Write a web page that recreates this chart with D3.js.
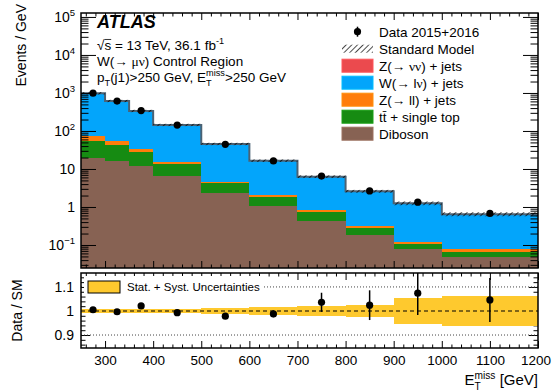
<!DOCTYPE html>
<html>
<head>
<meta charset="utf-8">
<script src="https://cdn.jsdelivr.net/npm/d3@7"></script>
<style>
  html, body { margin: 0; padding: 0; background: #fff; }
  svg { display: block; font-family: "Liberation Sans", Arial, Helvetica, sans-serif; }
  text { white-space: pre; }
</style>
</head>
<body>
<svg id="chart" width="552" height="390"></svg>
<script>
// ---- binning and stacked backgrounds (events / GeV) ----
const binEdges = [250, 300, 350, 400, 500, 600, 700, 800, 900, 1000, 1200];
const diboson        = [19, 16.2, 12, 6.5, 2.38, 1.08, 0.43, 0.183, 0.0785, 0.049];
const ttbarSingleTop = [35.6, 25.5, 15.7, 6.8, 1.82, 0.79, 0.32, 0.103, 0.0275, 0.0165];
const zll            = [19.4, 12.9, 5.3, 2.0, 0.45, 0.2, 0.08, 0.03, 0.011, 0.0115];
const wlnu           = [905.4, 560, 302.8, 128.6, 40.8, 14.42, 5.44, 2.27, 1.13, 0.568];
const znunu          = [0.6, 0.4, 0.2, 0.1, 0.03, 0.01, 0.004, 0.0015, 0.0008, 0.0004];
// relative stat.+syst. uncertainty on the SM total
const smRelUnc       = [0.009, 0.009, 0.01, 0.01, 0.012, 0.015, 0.022, 0.026, 0.054, 0.062];
// observed data
const dataValues     = [985, 613, 343, 143, 44.5, 16.3, 6.5, 2.65, 1.34, 0.675];
const dataErr        = [4, 3, 2, 1, 0.5, 0.23, 0.25, 0.16, 0.113, 0.059];
// axis ticks
const xTickLabels    = [300, 400, 500, 600, 700, 800, 900, 1000, 1100, 1200];
const yDecades       = [-1, 0, 1, 2, 3, 4, 5];
const ratioTicks     = [0.9, 1, 1.1];

const processes = [
  { key: "diboson", values: diboson,        color: "#876253", label: [{ t: "Diboson" }] },
  { key: "ttbar",   values: ttbarSingleTop, color: "#168b12", label: [{ t: "tt\u0304 + single top" }] },
  { key: "zll",     values: zll,            color: "#ff7d0b", label: [{ t: "Z(\u2192 ll) + jets" }] },
  { key: "wlnu",    values: wlnu,           color: "#03a5fb", label: [{ t: "W(\u2192 l" }, { t: "\u03bd", serif: true }, { t: ") + jets" }] },
  { key: "znunu",   values: znunu,          color: "#eb4a4e", label: [{ t: "Z(\u2192 " }, { t: "\u03bd\u03bd", serif: true }, { t: ") + jets" }] }
];

const nBins = binEdges.length - 1;
const rows = d3.range(nBins).map(i => {
  const r = { i, lo: binEdges[i], hi: binEdges[i + 1] };
  processes.forEach(p => r[p.key] = p.values[i]);
  return r;
});
const stacked = d3.stack().keys(processes.map(p => p.key))(rows);
const smTotal = rows.map(r => d3.sum(processes, p => r[p.key]));
const centers = rows.map(r => (r.lo + r.hi) / 2);

// ---- layout ----
const L = 81, R = 538;
const mainTop = 13, mainBot = 268;
const ratTop = 273, ratBot = 348;

const x = d3.scaleLinear().domain([250, 1200]).range([L, R]);
const y = d3.scaleLog().domain([0.0248, 1.27e5]).range([mainBot, mainTop]);
const yr = d3.scaleLinear().domain([0.846, 1.158]).range([ratBot, ratTop]);

const svg = d3.select("#chart");
const defs = svg.append("defs");
defs.append("clipPath").attr("id", "clipMain").append("rect")
  .attr("x", L).attr("y", mainTop).attr("width", R - L).attr("height", mainBot - mainTop);
defs.append("clipPath").attr("id", "clipRatio").append("rect")
  .attr("x", L).attr("y", ratTop).attr("width", R - L).attr("height", ratBot - ratTop);
const hatch = defs.append("pattern").attr("id", "hatch")
  .attr("patternUnits", "userSpaceOnUse").attr("width", 4).attr("height", 4)
  .attr("patternTransform", "rotate(45)");
hatch.append("line").attr("x1", 0).attr("y1", 0).attr("x2", 0).attr("y2", 4)
  .attr("stroke", "#000").attr("stroke-width", 1.4);

// rich text: plain runs, sub/superscripts (stacked), serif greek, overline
function rich(parent, px, py, parts, size, anchor) {
  const g = parent.append("g");
  let cx = 0;
  parts.forEach(p => {
    if (p.t) {
      const e = g.append("text").attr("x", cx).attr("y", 0).attr("font-size", size).text(p.t);
      if (p.serif) e.attr("font-family", "'Liberation Serif', 'DejaVu Serif', serif");
      if (p.bold) e.attr("font-weight", "bold");
      if (p.italic) e.attr("font-style", "italic");
      const w = e.node().getComputedTextLength();
      if (p.over) g.append("line").attr("x1", cx).attr("x2", cx + w)
        .attr("y1", -size * 0.78).attr("y2", -size * 0.78).attr("stroke", "#000").attr("stroke-width", 0.8);
      cx += w;
    }
    let w2 = 0;
    if (p.sub) {
      const e = g.append("text").attr("x", cx).attr("y", size * 0.3).attr("font-size", size * 0.68).text(p.sub);
      w2 = Math.max(w2, e.node().getComputedTextLength());
    }
    if (p.sup) {
      const e = g.append("text").attr("x", cx).attr("y", -size * 0.42).attr("font-size", size * 0.68).text(p.sup);
      w2 = Math.max(w2, e.node().getComputedTextLength());
    }
    cx += w2;
  });
  const shift = anchor === "end" ? -cx : anchor === "middle" ? -cx / 2 : 0;
  g.attr("transform", `translate(${px + shift},${py})`);
  return g;
}

// ---- main panel: stacked histograms ----
const main = svg.append("g").attr("clip-path", "url(#clipMain)");
stacked.forEach((layer, li) => {
  main.append("g").selectAll("rect").data(layer).join("rect")
    .attr("x", d => x(d.data.lo))
    .attr("width", d => x(d.data.hi) - x(d.data.lo))
    .attr("y", d => y(d[1]))
    .attr("height", d => (li === 0 ? mainBot : y(d[0])) - y(d[1]))
    .attr("fill", processes[li].color)
    .attr("shape-rendering", "crispEdges");
});

// SM total outline and hatched uncertainty
const stepLine = d3.line().x(d => x(d[0])).y(d => y(d[1])).curve(d3.curveStepAfter);
const stepPts = rows.map((r, i) => [r.lo, smTotal[i]]).concat([[1200, smTotal[nBins - 1]]]);
main.append("path").datum(stepPts).attr("d", stepLine)
  .attr("fill", "none").attr("stroke", "#4b6274").attr("stroke-width", 2);
main.append("g").selectAll("rect").data(rows).join("rect")
  .attr("x", d => x(d.lo))
  .attr("width", d => x(d.hi) - x(d.lo))
  .attr("y", (d, i) => y(smTotal[i] * (1 + smRelUnc[i])) - 1)
  .attr("height", (d, i) => y(smTotal[i] * (1 - smRelUnc[i])) - y(smTotal[i] * (1 + smRelUnc[i])) + 2)
  .attr("fill", "url(#hatch)");

// data points
const dataG = svg.append("g");
dataG.selectAll("line").data(dataValues).join("line")
  .attr("x1", (d, i) => x(centers[i])).attr("x2", (d, i) => x(centers[i]))
  .attr("y1", (d, i) => y(d + dataErr[i])).attr("y2", (d, i) => y(d - dataErr[i]))
  .attr("stroke", "#000").attr("stroke-width", 1.5);
dataG.selectAll("circle").data(dataValues).join("circle")
  .attr("cx", (d, i) => x(centers[i])).attr("cy", d => y(d)).attr("r", 3.6).attr("fill", "#000");

// ---- main panel axes ----
const xMinor = d3.range(260, 1200, 20).filter(v => v % 100 !== 0);
const yMinor = [];
d3.range(-2, 6).forEach(e => d3.range(2, 10).forEach(k => {
  const v = k * Math.pow(10, e);
  if (v > y.domain()[0] && v < y.domain()[1]) yMinor.push(v);
}));
const yMajor = yDecades.map(e => Math.pow(10, e));

function tickAxis(g, axis) {
  g.call(axis);
  g.select(".domain").remove();
  g.selectAll(".tick line").attr("stroke", "#000").attr("stroke-width", 1);
  g.selectAll(".tick text").remove();
}
const axesG = svg.append("g");
// bottom & top of main
tickAxis(axesG.append("g").attr("transform", `translate(0,${mainBot})`), d3.axisBottom(x).tickValues(xTickLabels).tickSize(-7));
tickAxis(axesG.append("g").attr("transform", `translate(0,${mainBot})`), d3.axisBottom(x).tickValues(xMinor).tickSize(-3.5));
tickAxis(axesG.append("g").attr("transform", `translate(0,${mainTop})`), d3.axisTop(x).tickValues(xTickLabels).tickSize(-7));
tickAxis(axesG.append("g").attr("transform", `translate(0,${mainTop})`), d3.axisTop(x).tickValues(xMinor).tickSize(-3.5));
// left & right of main
tickAxis(axesG.append("g").attr("transform", `translate(${L},0)`), d3.axisLeft(y).tickValues(yMajor).tickSize(-15));
tickAxis(axesG.append("g").attr("transform", `translate(${L},0)`), d3.axisLeft(y).tickValues(yMinor).tickSize(-7.5));
tickAxis(axesG.append("g").attr("transform", `translate(${R},0)`), d3.axisRight(y).tickValues(yMajor).tickSize(-15));
tickAxis(axesG.append("g").attr("transform", `translate(${R},0)`), d3.axisRight(y).tickValues(yMinor).tickSize(-7.5));

// y labels for main (powers of ten)
yDecades.forEach(e => {
  const yy = y(Math.pow(10, e)) + 5;
  if (e === 0) rich(svg, 75, yy, [{ t: "1" }], 14, "end");
  else if (e === 1) rich(svg, 75, yy, [{ t: "10" }], 14, "end");
  else rich(svg, 75, yy, [{ t: "10", sup: (e < 0 ? "\u22121" : String(e)) }], 14, "end");
});

svg.append("rect").attr("x", L).attr("y", mainTop).attr("width", R - L).attr("height", mainBot - mainTop)
  .attr("fill", "none").attr("stroke", "#000").attr("stroke-width", 1.5);

// ---- ratio panel ----
const ratio = svg.append("g").attr("clip-path", "url(#clipRatio)");
ratio.selectAll("rect.band").data(rows).join("rect").attr("class", "band")
  .attr("x", d => x(d.lo)).attr("width", d => x(d.hi) - x(d.lo))
  .attr("y", (d, i) => yr(1 + smRelUnc[i]))
  .attr("height", (d, i) => yr(1 - smRelUnc[i]) - yr(1 + smRelUnc[i]))
  .attr("fill", "#fec92e").attr("shape-rendering", "crispEdges");
[0.9, 1.1].forEach(v => ratio.append("line").attr("x1", L).attr("x2", R).attr("y1", yr(v)).attr("y2", yr(v))
  .attr("stroke", "#444").attr("stroke-width", 1).attr("stroke-dasharray", "1,2"));
ratio.append("line").attr("x1", L).attr("x2", R).attr("y1", yr(1)).attr("y2", yr(1))
  .attr("stroke", "#000").attr("stroke-width", 1.2).attr("stroke-dasharray", "4,3");

// ratio legend
ratio.append("rect").attr("x", 84).attr("y", 276).attr("width", 180).attr("height", 20).attr("fill", "#fff");
ratio.append("rect").attr("x", 88).attr("y", 281).attr("width", 32).attr("height", 12)
  .attr("fill", "#fec92e").attr("stroke", "#000").attr("stroke-width", 1);
svg.append("text").attr("x", 127).attr("y", 291).attr("font-size", 11.5).text("Stat. + Syst. Uncertainties");

const ratioVals = dataValues.map((d, i) => d / smTotal[i]);
const ratioErr = dataErr.map((d, i) => d / smTotal[i]);
ratio.selectAll("line.err").data(ratioVals).join("line").attr("class", "err")
  .attr("x1", (d, i) => x(centers[i])).attr("x2", (d, i) => x(centers[i]))
  .attr("y1", (d, i) => yr(d + ratioErr[i])).attr("y2", (d, i) => yr(d - ratioErr[i]))
  .attr("stroke", "#000").attr("stroke-width", 1.5);
ratio.selectAll("circle").data(ratioVals).join("circle")
  .attr("cx", (d, i) => x(centers[i])).attr("cy", d => yr(d)).attr("r", 3.6).attr("fill", "#000");

const rMinor = d3.range(0.86, 1.16, 0.02).map(v => +v.toFixed(2)).filter(v => ![0.9, 1, 1.1].includes(v));
tickAxis(axesG.append("g").attr("transform", `translate(0,${ratBot})`), d3.axisBottom(x).tickValues(xTickLabels).tickSize(-7));
tickAxis(axesG.append("g").attr("transform", `translate(0,${ratBot})`), d3.axisBottom(x).tickValues(xMinor).tickSize(-3.5));
tickAxis(axesG.append("g").attr("transform", `translate(0,${ratTop})`), d3.axisTop(x).tickValues(xTickLabels).tickSize(-7));
tickAxis(axesG.append("g").attr("transform", `translate(0,${ratTop})`), d3.axisTop(x).tickValues(xMinor).tickSize(-3.5));
tickAxis(axesG.append("g").attr("transform", `translate(${L},0)`), d3.axisLeft(yr).tickValues(ratioTicks).tickSize(-9));
tickAxis(axesG.append("g").attr("transform", `translate(${L},0)`), d3.axisLeft(yr).tickValues(rMinor).tickSize(-4.5));
tickAxis(axesG.append("g").attr("transform", `translate(${R},0)`), d3.axisRight(yr).tickValues(ratioTicks).tickSize(-9));
tickAxis(axesG.append("g").attr("transform", `translate(${R},0)`), d3.axisRight(yr).tickValues(rMinor).tickSize(-4.5));

// ratio y labels
ratioTicks.forEach(v => svg.append("text").attr("x", 74).attr("y", yr(v) + 5).attr("text-anchor", "end")
  .attr("font-size", 14).text(v === 1 ? "1" : d3.format(".1f")(v)));

// x labels (the last one is nudged so it stays inside the canvas)
const xLab = svg.append("g").attr("transform", `translate(0,${ratBot})`)
  .call(d3.axisBottom(x).tickValues(xTickLabels).tickSize(0).tickPadding(7).tickFormat(d3.format("d")));
xLab.select(".domain").remove();
xLab.selectAll("text").attr("font-size", 13.5).attr("font-family", null).attr("fill", "#000")
  .attr("dx", d => d === 1200 ? -2.5 : 0);

svg.append("rect").attr("x", L).attr("y", ratTop).attr("width", R - L).attr("height", ratBot - ratTop)
  .attr("fill", "none").attr("stroke", "#000").attr("stroke-width", 1.5);

// ---- titles ----
rich(svg, 538, 385, [{ t: "E", sub: "T", sup: "miss" }, { t: " [GeV]" }], 15, "end");
svg.append("text").attr("transform", "translate(26,4) rotate(-90)").attr("text-anchor", "end")
  .attr("font-size", 14).text("Events / GeV");
svg.append("text").attr("transform", `translate(22,${(ratTop + ratBot) / 2}) rotate(-90)`).attr("text-anchor", "middle")
  .attr("font-size", 14).text("Data / SM");

// ---- annotations ----
rich(svg, 97, 28, [{ t: "ATLAS", bold: true, italic: true }], 18, "start");
rich(svg, 97, 50, [{ t: "\u221a" }, { t: "s", over: true }, { t: " = 13 TeV, 36.1 fb", sup: "-1" }], 13.5, "start");
rich(svg, 97, 66, [{ t: "W(\u2192 " }, { t: "\u03bc\u03bd", serif: true }, { t: ") Control Region" }], 13.5, "start");
rich(svg, 97, 82, [{ t: "p", sub: "T" }, { t: "(j1)>250 GeV, E", sub: "T", sup: "miss" }, { t: ">250 GeV" }], 13.5, "start");

// ---- legend ----
const leg = svg.append("g");
const legX = 342, legW = 31, legTextX = 379, legY0 = 31.7, legDy = 17;
// data entry
leg.append("line").attr("x1", legX + legW / 2).attr("x2", legX + legW / 2)
  .attr("y1", legY0 - 5).attr("y2", legY0 + 5).attr("stroke", "#000").attr("stroke-width", 1.5);
leg.append("circle").attr("cx", legX + legW / 2).attr("cy", legY0).attr("r", 3.6).attr("fill", "#000");
rich(leg, legTextX, legY0 + 5, [{ t: "Data 2015+2016" }], 13.5, "start");
// SM entry
leg.append("rect").attr("x", legX).attr("y", legY0 + legDy - 4).attr("width", legW).attr("height", 8).attr("fill", "url(#hatch)");
rich(leg, legTextX, legY0 + legDy + 5, [{ t: "Standard Model" }], 13.5, "start");
// process entries, top of stack first
processes.slice().reverse().forEach((p, k) => {
  const cy = legY0 + legDy * (k + 2);
  leg.append("rect").attr("x", legX).attr("y", cy - 6.5).attr("width", legW).attr("height", 13)
    .attr("fill", p.color).attr("stroke", d3.color(p.color).brighter(0.4)).attr("stroke-width", 1);
  rich(leg, legTextX, cy + 5, p.label, 13.5, "start");
});
</script>
</body>
</html>
